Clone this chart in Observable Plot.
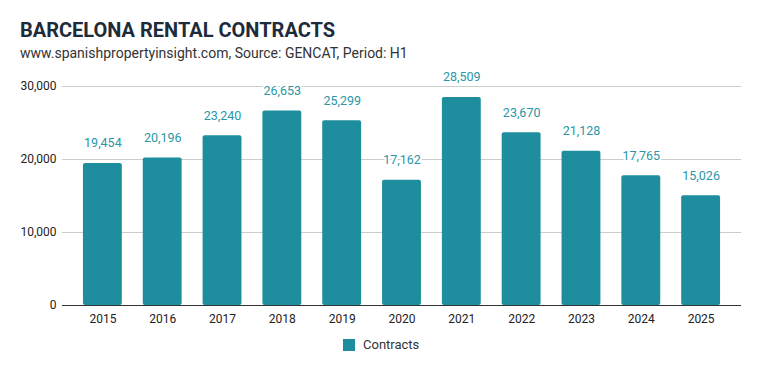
<!DOCTYPE html>
<html>
<head>
<meta charset="utf-8">
<script src="https://cdn.jsdelivr.net/npm/d3@7"></script>
<script src="https://cdn.jsdelivr.net/npm/@observablehq/plot@0.6"></script>
<style>
  html, body { margin: 0; padding: 0; background: #fff; }
  body { width: 759px; height: 371px; position: relative; font-family: Roboto, sans-serif; overflow: hidden; }
  #title { position: absolute; left: 20px; top: 18px; font-size: 20px; font-weight: 700; color: #1d2b3a; letter-spacing: 0; }
  #subtitle { position: absolute; left: 20px; top: 45px; font-size: 14px; color: #333; }
  #chart { position: absolute; left: 0; top: 60px; }
  #chart svg { overflow: visible; }
  #legend { position: absolute; left: 343px; top: 337px; font-size: 13px; color: #333; display: flex; align-items: center; }
  #legend .sw { width: 12px; height: 12px; background: #1e8e9e; margin-right: 8px; }
</style>
</head>
<body>
<div id="title">BARCELONA RENTAL CONTRACTS</div>
<div id="subtitle">www.spanishpropertyinsight.com, Source: GENCAT, Period: H1</div>
<div id="chart"></div>
<div id="legend"><div class="sw"></div><span>Contracts</span></div>
<script>
const years = ["2015","2016","2017","2018","2019","2020","2021","2022","2023","2024","2025"];
const contracts = [19454, 20196, 23240, 26653, 25299, 17162, 28509, 23670, 21128, 17765, 15026];
const yTicks = [0, 10000, 20000, 30000];
const seriesName = "Contracts";

const data = years.map((y, i) => ({year: y, value: contracts[i], series: seriesName}));
const fmt = d3.format(",");

const chart = Plot.plot({
  width: 759,
  height: 267,
  marginTop: 26,
  marginBottom: 22,
  marginLeft: 62,
  marginRight: 18,
  style: { fontFamily: "Roboto, sans-serif", fontSize: "12px", color: "#222", background: "transparent", overflow: "visible" },
  x: { domain: years, padding: 0.35, round: false, label: null, tickSize: 0, tickPadding: 9 },
  y: { domain: [0, 30000], ticks: yTicks, tickFormat: fmt, label: null, tickSize: 0, tickPadding: 6 },
  marks: [
    Plot.ruleY(yTicks.filter(d => d > 0), { stroke: "#cccccc", strokeWidth: 1 }),
    Plot.barY(data, { x: "year", y: "value", fill: "#1e8e9e", rx: 2 }),
    Plot.ruleY([0], { stroke: "#333", strokeWidth: 1 }),
    Plot.text(data, { x: "year", y: "value", text: d => fmt(d.value), dy: -20, fill: "#2a96a6", fontSize: 12.5, stroke: "white", strokeWidth: 4, paintOrder: "stroke" })
  ]
});
document.getElementById("chart").appendChild(chart);
</script>
</body>
</html>
